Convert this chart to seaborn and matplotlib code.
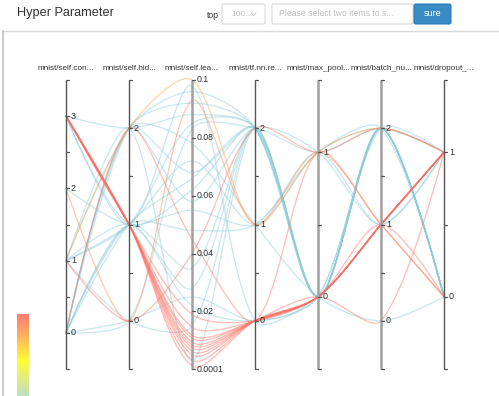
import numpy as np
import pandas as pd
import matplotlib
matplotlib.use("Agg")
import matplotlib.pyplot as plt
import seaborn as sns
from matplotlib.colors import LinearSegmentedColormap
from matplotlib.patches import FancyBboxPatch
from matplotlib.lines import Line2D

# ---------------- data ----------------
dim_names = ["mnist/self.con...", "mnist/self.hid...", "mnist/self.lea...",
             "mnist/tf.nn.re...", "mnist/max_pool...", "mnist/batch_nu...",
             "mnist/dropout_..."]
conv_levels = [0, 1, 2, 3]
hidden_levels = [0, 1, 2]
lr_ticks = [0.0001, 0.02, 0.04, 0.06, 0.08, 0.1]
lr_tick_labels = ["0.0001", "0.02", "0.04", "0.06", "0.08", "0.1"]
act_levels = [0, 1, 2]
pool_levels = [0, 1]
batch_levels = [0, 1, 2]
dropout_levels = [0, 1]

conv_size = [3, 3, 2, 1, 1, 1, 1, 0, 0, 0, 0, 0, 0, 0, 0, 3, 1, 0, 0, 1,
             1, 2, 0, 1,
             3, 3, 3, 3, 3, 3, 3, 3, 3, 3, 3]
hidden_size = [2, 1, 1, 2, 1, 1, 0, 2, 2, 2, 1, 1, 1, 1, 0, 1, 2, 0, 2, 1,
               2, 0, 2, 0,
               1, 1, 1, 1, 1, 1, 1, 1, 1, 1, 1]
learning_rate = [0.088, 0.062, 0.055, 0.096, 0.072, 0.028, 0.015, 0.092, 0.078, 0.058,
                 0.066, 0.048, 0.022, 0.035, 0.083, 0.098, 0.003, 0.025, 0.068, 0.085,
                 0.1, 0.093, 0.045, 0.040,
                 0.019, 0.0146, 0.0118, 0.0108, 0.0094, 0.0084, 0.0074, 0.005, 0.0032,
                 0.0012, 0.0062]
activation = [2, 2, 1, 2, 1, 2, 2, 2, 1, 2, 2, 1, 0, 2, 2, 0, 2, 0, 2, 2,
              1, 1, 0, 2,
              0, 0, 0, 0, 0, 0, 0, 0, 0, 0, 0]
max_pool = [0, 0, 1, 0, 1, 0, 0, 0, 0, 1, 0, 1, 0, 0, 1, 0, 0, 0, 0, 0,
            1, 1, 1, 1,
            0, 0, 0, 0, 0, 0, 0, 0, 0, 0, 0]
batch_num = [2, 2, 1, 2, 2, 2, 2, 2, 0, 1, 2, 2, 2, 2, 2, 1, 2, 2, 2, 2,
             2, 1, 1, 2,
             1, 1, 1, 1, 1, 1, 1, 0, 1, 1, 1]
dropout = [0, 0, 1, 0, 1, 0, 0, 0, 0, 1, 0, 0, 0, 1, 1, 1, 0, 0, 0, 0,
           1, 0, 0, 1,
           1, 1, 1, 1, 1, 0, 1, 1, 1, 1, 1]
accuracy = [0.1135, 0.0980, 0.1028, 0.1009, 0.0982, 0.1135, 0.1032, 0.0958, 0.1010, 0.0974,
            0.1135, 0.1028, 0.0980, 0.1009, 0.1032, 0.0958, 0.1135, 0.0982, 0.1010, 0.0974,
            0.86, 0.92, 0.97, 0.975,
            0.985, 0.988, 0.990, 0.989, 0.991, 0.987, 0.992, 0.986, 0.990, 0.984, 0.9925]

dims = [conv_size, hidden_size, learning_rate, activation, max_pool, batch_num, dropout]
dim_ranges = [(-0.5, 3.5), (-0.5, 2.5), (0.0001, 0.1), (-0.5, 2.5),
              (-0.5, 1.5), (-0.5, 2.5), (-0.5, 1.5)]
dim_levels = [conv_levels, hidden_levels, None, act_levels, pool_levels,
              batch_levels, dropout_levels]

# ---------------- layout (pixels) ----------------
W, H = 499, 396
X0, DX = 66, 63        # first axis x, spacing
YB, YH = 369, 289      # axis bottom y, axis height

cmap = LinearSegmentedColormap.from_list(
    "nni", [(0.0, "#8ecbd9"), (0.25, "#a6d6d2"), (0.40, "#b8dcc0"),
            (0.55, "#e4ec6a"), (0.66, "#ffff1a"), (0.85, "#ffa64d"),
            (1.0, "#fb6f64")])
vmin, vmax = min(accuracy), max(accuracy)


def norm_val(d, v):
    lo, hi = dim_ranges[d]
    return (v - lo) / (hi - lo)


def smooth_path(px, py, smooth=0.3, nseg=30):
    pts = np.column_stack([px, py]).astype(float)
    n = len(pts)
    cps = [pts[0]]
    for i in range(1, n - 1):
        prev, cur, nxt = pts[i - 1], pts[i], pts[i + 1]
        v = (nxt - prev) * smooth
        d0 = np.hypot(*(cur - prev))
        d1 = np.hypot(*(cur - nxt))
        s = d0 + d1
        if s:
            d0 /= s
            d1 /= s
        cps.append(cur - v * d0)
        cps.append(cur + v * d1)
    cps.append(pts[-1])
    out = [pts[0:1]]
    t = np.linspace(0, 1, nseg)[1:, None]
    for i in range(n - 1):
        p0, c1, c2, p3 = pts[i], cps[2 * i], cps[2 * i + 1], pts[i + 1]
        seg = ((1 - t) ** 3) * p0 + 3 * ((1 - t) ** 2) * t * c1 + \
              3 * (1 - t) * (t ** 2) * c2 + (t ** 3) * p3
        out.append(seg)
    return np.vstack(out)


rows = []
for k in range(len(accuracy)):
    px = [X0 + DX * d for d in range(len(dims))]
    py = [YB - YH * norm_val(d, dims[d][k]) for d in range(len(dims))]
    path = smooth_path(px, py)
    for j, (xx, yy) in enumerate(path):
        rows.append({"trial": k, "order": j,
                     "x": (xx - X0) / DX, "y": (YB - yy) / YH,
                     "acc": accuracy[k]})
df = pd.DataFrame(rows)

# ---------------- figure ----------------
sns.set_theme(style="white")
plt.rcParams["font.family"] = ["Liberation Sans", "DejaVu Sans"]
fig = plt.figure(figsize=(W / 100, H / 100), dpi=100)
fig.patch.set_facecolor("white")

ax = fig.add_axes([0, 0, 1, 1])
ax.set_xlim(-X0 / DX, (W - X0) / DX)
ax.set_ylim(-(H - YB) / YH, YB / YH)
ax.axis("off")

sns.lineplot(data=df, x="x", y="y", units="trial", estimator=None,
             hue="acc", palette=cmap, hue_norm=(vmin, vmax), sort=False,
             legend=False, ax=ax, lw=0.95, alpha=0.45)
ax.axis("off")

# parallel axes
tick_len = 3 / DX
lab_off = 5 / DX
axis_style = [("#555555", 1.0), ("#555555", 1.0), ("#a0a0a0", 1.8), ("#555555", 1.0),
              ("#a0a0a0", 1.8), ("#a0a0a0", 1.8), ("#555555", 1.0)]
for d in range(len(dims)):
    col, lw = axis_style[d]
    ax.plot([d, d], [0, 1], color=col, lw=lw, solid_capstyle="butt", zorder=5)
    if dim_levels[d] is not None:
        lo, hi = dim_ranges[d]
        tvals = np.arange(lo, hi + 0.01, 0.5)
        for tv in tvals:
            yy = norm_val(d, tv)
            ax.plot([d, d + tick_len], [yy, yy], color="#555555", lw=0.9, zorder=5)
        for lv in dim_levels[d]:
            ax.text(d + lab_off, norm_val(d, lv), str(lv), fontsize=6.5,
                    color="#333333", va="center", ha="left", zorder=6)
    else:
        for tv, tl in zip(lr_ticks, lr_tick_labels):
            yy = norm_val(d, tv)
            ax.plot([d, d + tick_len], [yy, yy], color="#555555", lw=0.9, zorder=5)
            ax.text(d + lab_off, yy, tl, fontsize=6.3, color="#333333",
                    va="center", ha="left", zorder=6)
    ax.text(d, (YB - 68) / YH, dim_names[d], fontsize=5.9, color="#333333",
            ha="center", va="center")


def fx(px):
    return px / W


def fy(py):
    return 1 - py / H


# colorbar
cax = fig.add_axes([fx(17), fy(452), 12 / W, (452 - 314) / H])
grad = np.linspace(1, 0, 200)[:, None]
cax.imshow(grad, aspect="auto", cmap=cmap, vmin=0, vmax=1, alpha=0.9)
cax.axis("off")

# header / frame
fig.add_artist(Line2D([fx(3), 1], [fy(31), fy(31)], color="#d9d9d9", lw=1.0))
fig.add_artist(Line2D([fx(3), fx(3)], [fy(31), 0], color="#cccccc", lw=1.5))
fig.text(fx(17), fy(13), "Hyper Parameter", fontsize=9.2, color="#333333",
         ha="left", va="center")
fig.text(fx(207), fy(15), "top", fontsize=6.2, color="#333333", ha="left", va="center")


def rbox(x0, y0, x1, y1, fc, ec):
    p = FancyBboxPatch((fx(x0), fy(y1)), fx(x1) - fx(x0), fy(y0) - fy(y1),
                       boxstyle="round,pad=0,rounding_size=0.004",
                       transform=fig.transFigure, fc=fc, ec=ec, lw=0.8)
    fig.add_artist(p)


rbox(222, 4, 265, 24, "white", "#d9d9d9")
fig.text(fx(231), fy(14), "100...", fontsize=6.0, color="#bfbfbf", ha="left", va="center")
fig.add_artist(Line2D([fx(251), fx(253.5), fx(256)], [fy(13), fy(15.5), fy(13)],
                      color="#bfbfbf", lw=0.7))
rbox(272, 4, 413, 24, "white", "#d9d9d9")
fig.text(fx(279), fy(14), "Please select two items to s...", fontsize=6.2,
         color="#bfbfbf", ha="left", va="center")
rbox(414, 4, 451, 24, "#3a8ac3", "#2f7db5")
fig.text(fx(432.5), fy(14), "sure", fontsize=6.5, color="white", ha="center", va="center")

fig.savefig("out.png", dpi=100)
